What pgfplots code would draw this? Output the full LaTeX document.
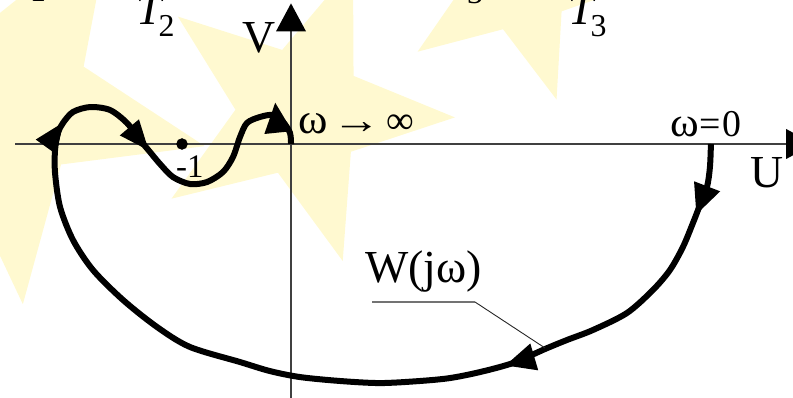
\documentclass[border=0pt]{standalone}
\usepackage{fontspec}
\setmainfont{Liberation Serif}
\usepackage{pgfplots}
\pgfplotsset{compat=1.18}
\usetikzlibrary{arrows.meta,decorations.markings,shapes.geometric}
\definecolor{starfill}{RGB}{255,249,208}
\newcommand{\om}{\scalebox{1.15}[1.1]{ω}}

\begin{document}
\begin{tikzpicture}
% pale background stars (frame: x to the right, y downwards, 1 unit = 1bp)
\begin{scope}[x=1bp,y=-1bp,yshift=398bp]
  \tikzset{bgstar/.style={star,star points=5,star point ratio=2.4,inner sep=0pt,fill=starfill,draw=none}}
  \node[bgstar,minimum size=410bp,shape border rotate=-31] at (5,100) {};
  \node[bgstar,minimum size=310bp,shape border rotate=196] at (300,112) {};
  \node[bgstar,minimum size=250bp,shape border rotate=197] at (520,-20) {};
\end{scope}

\begin{axis}[
  at={(0,0)}, anchor=south west,
  scale only axis, width=793bp, height=398bp,
  xmin=-2.670, xmax=4.606, ymin=-2.330, ymax=1.321,
  hide axis, clip=false,
]
% U and V axes
\draw[black!75, line width=1.4bp,
      -{Triangle[length=28bp,width=30bp,line width=0pt,color=black]}]
  (axis cs:-2.532,0) -- (axis cs:4.80,0);
\draw[black!75, line width=1.4bp,
      -{Triangle[length=28bp,width=30bp,line width=0pt,color=black]}]
  (axis cs:0,-2.45) -- (axis cs:0,1.29);

% frequency response W(j omega), from omega = 0 to omega -> infinity
\addplot[black, line width=6bp, smooth, tension=0.5,
  postaction={decorate},
  decoration={markings,
    mark=at position 0.058 with {\arrow{Triangle[length=30bp,width=28bp,line width=0pt]}},
    mark=at position 0.262 with {\arrow{Triangle[length=30bp,width=28bp,line width=0pt]}},
    mark=at position 0.745 with {\arrow{Triangle[length=30bp,width=25bp,line width=0pt]}},
    mark=at position 0.832 with {\arrow{Triangle[length=30bp,width=25bp,line width=0pt]}},
    mark=at position 0.974 with {\pgftransformrotate{128}\pgftransformxshift{14bp}%
                                 \arrow{Triangle[length=30bp,width=28bp,line width=0pt]}},
  }] coordinates {
  (3.853,0) (3.844,-0.211) (3.817,-0.394) (3.752,-0.560) (3.688,-0.725)
  (3.596,-0.945) (3.477,-1.156) (3.321,-1.339) (3.083,-1.550) (2.771,-1.706)
  (2.532,-1.798) (2.330,-1.881) (2.037,-2.009) (1.734,-2.092) (1.459,-2.147)
  (1.183,-2.174) (0.817,-2.193) (0.450,-2.174) (0.083,-2.138) (-0.193,-2.083)
  (-0.468,-2.000) (-0.927,-1.862) (-1.229,-1.679) (-1.541,-1.431) (-1.817,-1.156)
  (-2.000,-0.881) (-2.119,-0.578) (-2.165,-0.266) (-2.165,-0.055) (-2.138,0.101)
  (-2.092,0.193) (-2.000,0.294) (-1.844,0.339) (-1.661,0.312) (-1.505,0.193)
  (-1.385,0.037) (-1.294,-0.073) (-1.202,-0.183) (-1.083,-0.303) (-0.927,-0.367)
  (-0.771,-0.349) (-0.624,-0.257) (-0.532,-0.119) (-0.468,0.064) (-0.404,0.193)
  (-0.284,0.248) (-0.165,0.266) (-0.073,0.202) (-0.009,0.101) (0,0)
};

% critical point -1
\addplot[only marks, mark=*, mark size=5.5bp, black] coordinates {(-1,0)};
\end{axis}

% labels
\begin{scope}[x=1bp,y=-1bp,yshift=398bp]
  \tikzset{lbl/.style={anchor=base west,inner sep=0pt,text=black}}
  \node[lbl] at (242,53) {\fontsize{46}{50}\selectfont V};
  \node[lbl] at (750,188) {\fontsize{46}{50}\selectfont U};
  \node[lbl] at (298,134) {\fontsize{39}{44}\selectfont \om\hspace{5bp}\scalebox{1.25}[1]{→}\hspace{5bp}∞};
  \node[lbl] at (670,137) {\fontsize{38}{44}\selectfont \om\kern1bp=\kern1bp0};
  \node[lbl] at (176,178) {\fontsize{33}{36}\selectfont -1};
  \node[lbl] at (365,283) {\fontsize{46}{50}\selectfont W(jω)};
  \draw[black!55, line width=1.4bp] (372,302) -- (475,302);
  \draw[black!85, line width=0.9bp] (475,302) -- (545,348);
  \node[lbl] at (136,25) {\fontsize{46}{50}\selectfont\itshape T\kern-3bp\raisebox{-12bp}{\upshape\fontsize{32}{36}\selectfont 2}};
  \node[lbl] at (568,25) {\fontsize{46}{50}\selectfont\itshape T\kern-3bp\raisebox{-12bp}{\upshape\fontsize{32}{36}\selectfont 3}};
  \node[anchor=base,inner sep=0pt] at (38,2) {\fontsize{32}{36}\selectfont 1};
  \node[anchor=base,inner sep=0pt] at (475,4) {\fontsize{32}{36}\selectfont 3};
\end{scope}

\pgfresetboundingbox
\useasboundingbox (0,0) rectangle (793bp,398bp);
\end{tikzpicture}
\end{document}
